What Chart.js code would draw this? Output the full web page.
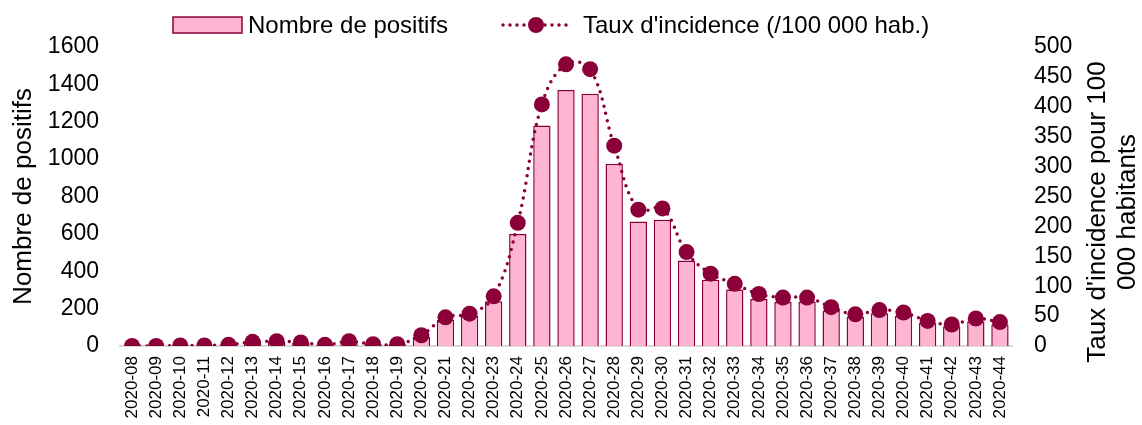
<!DOCTYPE html>
<html>
<head>
<meta charset="utf-8">
<script src="https://cdn.jsdelivr.net/npm/chart.js@4/dist/chart.umd.min.js"></script>
<style>
  body { margin: 0; background: #fff; }
  #wrap { width: 1142px; height: 425px; position: relative; }
</style>
</head>
<body>
<div id="wrap"><canvas id="chart"></canvas></div>
<script>
// weeks
const weeks = ['2020-08', '2020-09', '2020-10', '2020-11', '2020-12', '2020-13', '2020-14', '2020-15',
    '2020-16', '2020-17', '2020-18', '2020-19', '2020-20', '2020-21', '2020-22', '2020-23', '2020-24',
    '2020-25', '2020-26', '2020-27', '2020-28', '2020-29', '2020-30', '2020-31', '2020-32', '2020-33',
    '2020-34', '2020-35', '2020-36', '2020-37', '2020-38', '2020-39', '2020-40', '2020-41', '2020-42',
    '2020-43', '2020-44'];

// nombre de positifs (left axis)
const positifs = [0, 0, 3, 3, 6, 20, 23, 17, 6, 23, 9, 9, 50, 140, 160, 240, 600,
    1180, 1370, 1350, 975, 666, 675, 457, 355, 302, 252, 235, 238, 188, 157, 175, 161, 124, 106, 131, 115];

// taux d'incidence /100 000 hab. (right axis)
const incidence = [0, 0, 1, 1, 2, 7, 8, 6, 2, 8, 3, 3, 18, 48, 54, 83, 206,
    404, 471, 463, 335, 228, 230, 157, 121, 104, 87, 81, 81, 65, 53, 60, 56, 42, 36, 46, 40];

const leftTicks = [0, 1600, 200];
const rightTicks = [0, 500, 50];

const maroon = '#8C003A';
const pink = '#FFB5D2';
const fontFam = '"Liberation Sans", Arial, sans-serif';

Chart.defaults.font.family = fontFam;
Chart.defaults.color = '#000';

// legend + right axis title drawn by hand
const extras = {
    id: 'extras',
    afterDraw(chart) {
        const ctx = chart.ctx;
        ctx.save();
        // legend: bars
        ctx.fillStyle = pink;
        ctx.fillRect(173, 17, 69, 16);
        ctx.strokeStyle = maroon;
        ctx.lineWidth = 1.5;
        ctx.strokeRect(173, 17, 69, 16);
        ctx.fillStyle = '#000';
        ctx.font = '24px ' + fontFam;
        ctx.textBaseline = 'middle';
        ctx.textAlign = 'left';
        ctx.fillText('Nombre de positifs', 248, 26);
        // legend: line
        ctx.beginPath();
        ctx.setLineDash([0, 7]);
        ctx.lineCap = 'round';
        ctx.lineWidth = 3.5;
        ctx.moveTo(503, 25);
        ctx.lineTo(569, 25);
        ctx.stroke();
        ctx.setLineDash([]);
        ctx.beginPath();
        ctx.fillStyle = maroon;
        ctx.arc(536, 25, 8, 0, Math.PI * 2);
        ctx.fill();
        ctx.fillStyle = '#000';
        ctx.fillText("Taux d'incidence (/100 000 hab.)", 583, 26);

        // right axis title
        ctx.font = '26px ' + fontFam;
        ctx.textAlign = 'center';
        ctx.translate(1098, 212);
        ctx.rotate(-Math.PI / 2);
        ctx.fillText("Taux d'incidence pour 100", 0, 0);
        ctx.fillText('000 habitants', 0, 30);
        ctx.restore();
    }
};

new Chart(document.getElementById('chart'), {
    type: 'bar',
    data: {
        labels: weeks,
        datasets: [{
            type: 'line',
            label: "Taux d'incidence (/100 000 hab.)",
            data: incidence,
            yAxisID: 'y1',
            order: 0,
            borderColor: maroon,
            borderWidth: 3.5,
            borderDash: [0, 7.5],
            borderCapStyle: 'round',
            tension: 0.4,
            pointRadius: 8,
            pointBorderWidth: 0,
            pointBackgroundColor: maroon,
            fill: false
        }, {
            label: 'Nombre de positifs',
            data: positifs,
            yAxisID: 'y',
            order: 1,
            backgroundColor: pink,
            borderColor: maroon,
            borderWidth: 1.5,
            barPercentage: 0.72,
            categoryPercentage: 1
        }]
    },
    options: {
        responsive: true,
        maintainAspectRatio: false,
        animation: false,
        layout: { padding: { top: 47, right: 70, left: 0, bottom: 0 } },
        plugins: {
            legend: { display: false },
            tooltip: { enabled: false }
        },
        scales: {
            x: {
                grid: { display: false, drawTicks: false },
                border: { display: true, color: '#d9d9d9', width: 2 },
                ticks: { font: { size: 17 }, maxRotation: 90, minRotation: 90, autoSkip: false, padding: 10 },
                afterFit: s => { s.height = 79; }
            },
            y: {
                position: 'left',
                min: leftTicks[0],
                max: leftTicks[1],
                grid: { display: false, drawTicks: false },
                border: { display: false },
                ticks: { stepSize: leftTicks[2], autoSkip: false, font: { size: 23 }, padding: 21, callback: v => v },
                title: { display: true, text: 'Nombre de positifs', font: { size: 26 }, padding: { top: 8, bottom: 8 } },
                afterFit: s => { s.width = 120; }
            },
            y1: {
                position: 'right',
                min: rightTicks[0],
                max: rightTicks[1],
                grid: { display: false, drawTicks: false },
                border: { display: false },
                ticks: { stepSize: rightTicks[2], autoSkip: false, font: { size: 23 }, padding: 22, callback: v => v },
                afterFit: s => { s.width = 60; }
            }
        }
    },
    plugins: [extras]
});
</script>
</body>
</html>
